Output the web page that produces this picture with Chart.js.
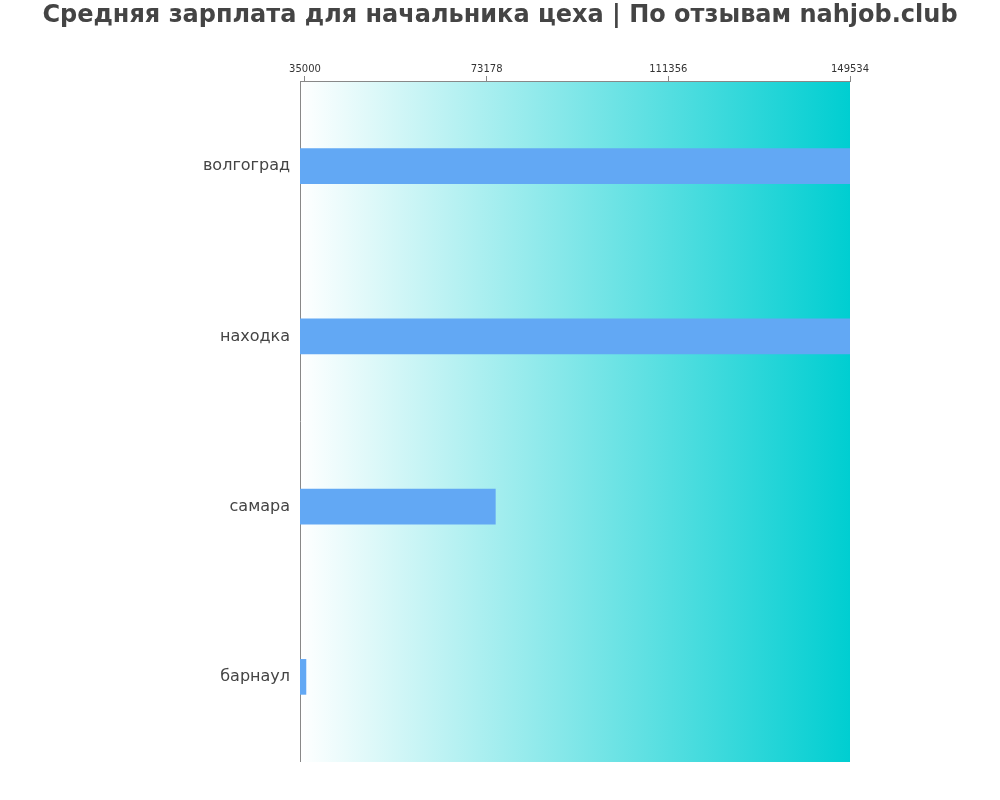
<!DOCTYPE html>
<html><head><meta charset="utf-8">
<script src="https://cdn.jsdelivr.net/npm/chart.js@4/dist/chart.umd.min.js"></script>
<style>body{margin:0;background:#fff}#w{width:1000px;height:800px}</style>
</head><body><div id="w"><canvas id="c"></canvas></div>
<script>
const categories = ["волгоград","находка","самара","барнаул"];
const salaries = [149534, 149534, 75000, 35200];
const tickValues = [35000, 73178, 111356, 149534];
const axisMin = 33950, axisMax = 149534;
const titleText = 'Средняя зарплата для начальника цеха | По отзывам nahjob.club';
const FAM = 'DejaVu Sans, sans-serif';

const bgPlugin = {
  id: 'bg',
  beforeDatasetsDraw(chart) {
    const {ctx, chartArea: a} = chart;
    const g = ctx.createLinearGradient(a.left, 0, a.right, 0);
    g.addColorStop(0, '#ffffff');
    g.addColorStop(1, '#00ced1');
    ctx.save(); ctx.fillStyle = g;
    ctx.fillRect(a.left, a.top, a.right - a.left, a.bottom - a.top);
    ctx.strokeStyle = '#888'; ctx.lineWidth = 1;
    ctx.beginPath(); ctx.moveTo(a.left + 0.5, a.top); ctx.lineTo(a.left + 0.5, a.bottom); ctx.stroke();
    ctx.beginPath(); ctx.moveTo(a.left, a.top + 0.5); ctx.lineTo(a.right, a.top + 0.5); ctx.stroke();
    ctx.restore();
  },
  afterDraw(chart) {
    const ctx = chart.ctx;
    ctx.save();
    ctx.font = 'bold 24px ' + FAM;
    ctx.fillStyle = '#444'; ctx.textAlign = 'center'; ctx.textBaseline = 'middle';
    ctx.fillText(titleText, chart.width / 2, 16);
    ctx.restore();
  }
};

Chart.defaults.font.family = FAM;
new Chart(document.getElementById('c'), {
  type: 'bar',
  data: { labels: categories, datasets: [{ data: salaries, backgroundColor: '#62a8f4', barThickness: 35, base: axisMin }] },
  options: {
    indexAxis: 'y', responsive: true, maintainAspectRatio: false, animation: false,
    layout: { padding: { left: 0, right: 150, top: 62, bottom: 38 } },
    plugins: { legend: { display: false }, tooltip: { enabled: false }, title: { display: false } },
    scales: {
      x: { position: 'top', min: axisMin, max: axisMax,
        afterBuildTicks: s => { s.ticks = tickValues.map(v => ({ value: v })); },
        grid: { display: true, drawOnChartArea: false, drawTicks: true, tickLength: 5, color: '#888' },
        border: { display: true, color: '#888' },
        ticks: { color: '#333', font: { size: 10 }, maxRotation: 0, autoSkip: false, padding: 1,
          callback: v => String(v) } },
      y: { grid: { display: false }, border: { display: false },
        afterFit: s => { s.width = 300; },
        ticks: { color: '#444', font: { size: 16 }, padding: 2 } }
    }
  },
  plugins: [bgPlugin]
});
</script></body></html>
